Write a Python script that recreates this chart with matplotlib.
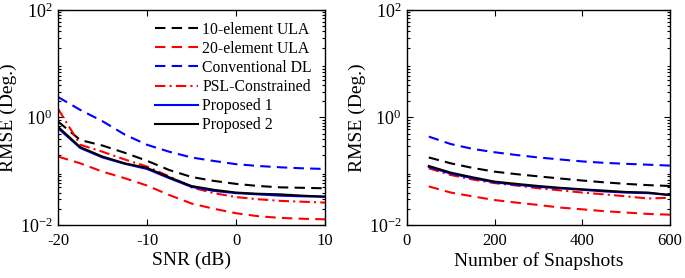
import matplotlib
matplotlib.use("Agg")
import matplotlib.pyplot as plt
from matplotlib.ticker import LogLocator, LogFormatterMathtext, NullFormatter

plt.rcParams['font.family'] = ['Liberation Serif', 'DejaVu Serif']
plt.rcParams['mathtext.fontset'] = 'custom'
plt.rcParams['mathtext.rm'] = 'Liberation Serif'
plt.rcParams['mathtext.it'] = 'Liberation Serif:italic'
plt.rcParams['axes.unicode_minus'] = False

# ---- data: left panel (RMSE vs SNR) ----
snr = [-20, -17.5, -15, -12.5, -10, -7.5, -5, -2.5, 0, 2.5, 5, 7.5, 10]
snr_ula10 = [0.84, 0.38, 0.30, 0.22, 0.156, 0.105, 0.078, 0.066, 0.058, 0.053, 0.050, 0.049, 0.048]
snr_ula20 = [0.187, 0.14, 0.098, 0.074, 0.054, 0.036, 0.025, 0.020, 0.0165, 0.0145, 0.0135, 0.013, 0.0127]
snr_convdl = [2.4, 1.38, 0.85, 0.48, 0.31, 0.23, 0.18, 0.155, 0.135, 0.125, 0.118, 0.113, 0.11]
snr_psl = [1.45, 0.31, 0.23, 0.165, 0.122, 0.08, 0.05, 0.039, 0.033, 0.030, 0.028, 0.027, 0.026]
snr_prop1 = [0.63, 0.27, 0.18, 0.137, 0.11, 0.074, 0.051, 0.043, 0.039, 0.037, 0.035, 0.034, 0.0335]
snr_prop2 = [0.67, 0.28, 0.187, 0.14, 0.115, 0.077, 0.053, 0.045, 0.040, 0.038, 0.037, 0.035, 0.0335]

# ---- data: right panel (RMSE vs snapshots) ----
snaps = [50, 100, 150, 200, 250, 300, 350, 400, 450, 500, 550, 600]
sn_ula10 = [0.18, 0.14, 0.115, 0.098, 0.088, 0.080, 0.073, 0.067, 0.062, 0.058, 0.055, 0.053]
sn_ula20 = [0.052, 0.040, 0.034, 0.029, 0.026, 0.0235, 0.021, 0.0195, 0.018, 0.017, 0.016, 0.0155]
sn_convdl = [0.44, 0.32, 0.26, 0.225, 0.20, 0.18, 0.165, 0.152, 0.143, 0.137, 0.132, 0.127]
sn_psl = [0.113, 0.085, 0.070, 0.060, 0.054, 0.048, 0.044, 0.040, 0.037, 0.034, 0.031, 0.032]
sn_prop1 = [0.12, 0.09, 0.074, 0.062, 0.056, 0.051, 0.048, 0.045, 0.042, 0.040, 0.039, 0.036]
sn_prop2 = [0.125, 0.094, 0.077, 0.064, 0.058, 0.053, 0.049, 0.046, 0.0435, 0.041, 0.040, 0.036]

labels = ['10-element ULA', '20-element ULA', 'Conventional DL',
          'PSL-Constrained', 'Proposed 1', 'Proposed 2']

styles = [
    dict(color='black', linestyle=(0, (5, 3))),
    dict(color='red', linestyle=(0, (5, 3))),
    dict(color='blue', linestyle=(0, (5, 3))),
    dict(color='red', linestyle=(0, (5, 2, 1, 2))),
    dict(color='blue', linestyle='-'),
    dict(color='black', linestyle='-'),
]

fig = plt.figure(figsize=(6.85, 2.78), dpi=100)
ax1 = fig.add_axes([0.0847, 0.191, 0.3898, 0.773])
ax2 = fig.add_axes([0.594, 0.191, 0.384, 0.773])

left_series = [snr_ula10, snr_ula20, snr_convdl, snr_psl, snr_prop1, snr_prop2]
right_series = [sn_ula10, sn_ula20, sn_convdl, sn_psl, sn_prop1, sn_prop2]

for ys, st, lab in zip(left_series, styles, labels):
    ax1.plot(snr, ys, lw=1.5, label=lab, **st)
for ys, st in zip(right_series, styles):
    ax2.plot(snaps, ys, lw=1.5, **st)

for ax in (ax1, ax2):
    ax.set_yscale('log')
    ax.set_ylim(1e-2, 1e2)
    ax.set_yticks([1e-2, 1e0, 1e2])
    ax.yaxis.set_major_formatter(LogFormatterMathtext())
    ax.yaxis.set_minor_locator(LogLocator(base=10, subs=range(2, 10), numticks=20))
    ax.yaxis.set_minor_formatter(NullFormatter())
    ax.tick_params(which='both', direction='in', top=True, right=True, width=0.8)
    ax.tick_params(which='major', length=4)
    ax.tick_params(which='minor', length=2)
    ax.tick_params(axis='x', labelsize=12, pad=6)
    ax.tick_params(axis='y', labelsize=13, pad=4)
    for s in ax.spines.values():
        s.set_linewidth(1.0)
    ax.set_ylabel('RMSE (Deg.)', fontsize=14, labelpad=2)

ax1.set_xlim(-20, 10)
ax1.set_xticks([-20, -10, 0, 10])
ax1.set_xlabel('SNR (dB)', fontsize=14, labelpad=2)

ax2.set_xlim(0, 600)
ax2.set_xticks([0, 200, 400, 600])
ax2.set_xlabel('Number of Snapshots', fontsize=14, labelpad=2)

ax1.legend(loc='upper right', frameon=False, fontsize=11.3, handlelength=2.75,
           labelspacing=0.2, handletextpad=0.3, borderaxespad=0.0,
           bbox_to_anchor=(0.975, 0.975))

fig.savefig('out.png', dpi=100)
